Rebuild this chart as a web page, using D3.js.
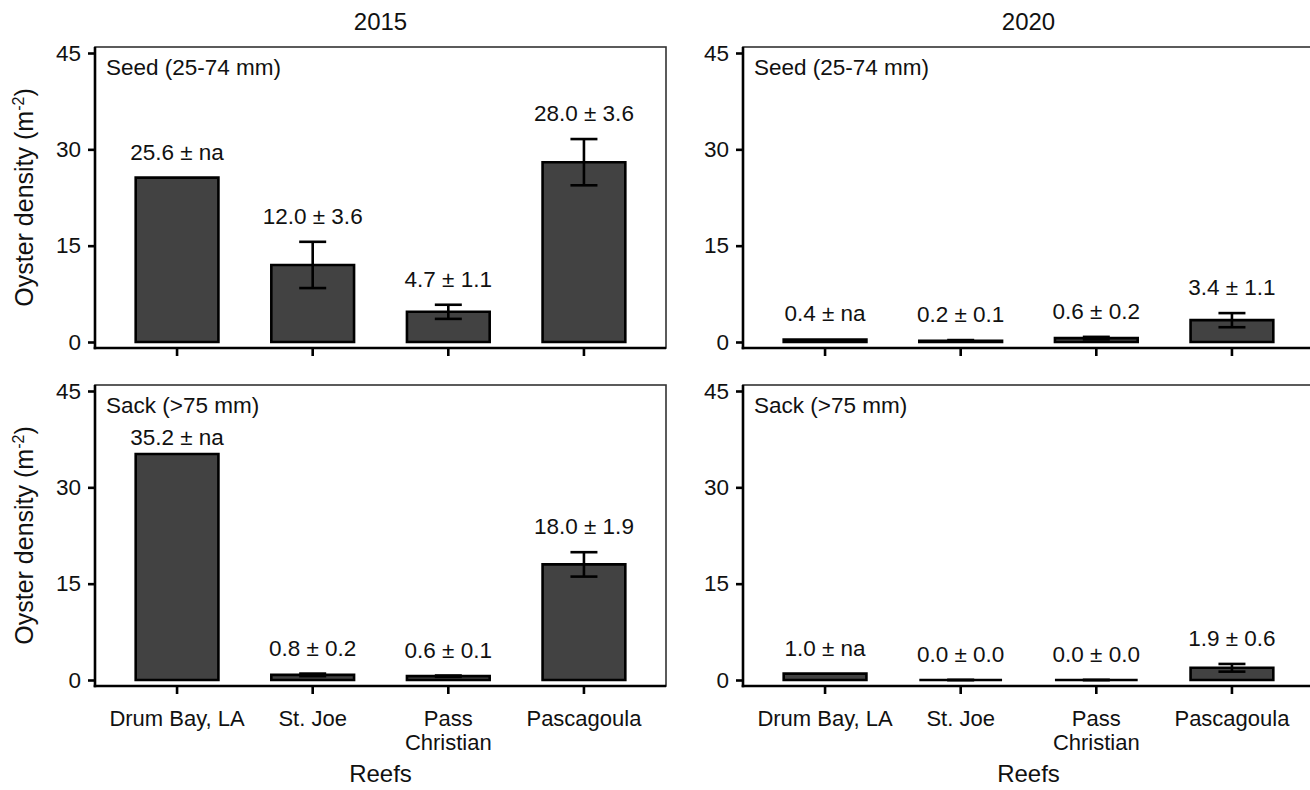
<!DOCTYPE html>
<html lang="en">
<head>
<meta charset="UTF-8">
<title>Oyster density</title>
<script src="https://d3js.org/d3.v7.min.js"></script>
<style>
  body { margin: 0; background: #fff; }
  text { font-family: "Liberation Sans", Arial, sans-serif; fill: #111; }
</style>
</head>
<body>
<script>
  // data
  let reefs = ["Drum Bay, LA", "St. Joe", "Pass Christian", "Pascagoula"];
  let reefLines = [["Drum Bay, LA"], ["St. Joe"], ["Pass", "Christian"], ["Pascagoula"]];
  let years = ["2015", "2020"];
  let sizeClasses = ["Seed (25-74 mm)", "Sack (>75 mm)"];
  let yTicks = [0, 15, 30, 45];

  let seed2015 = [25.6, 12.0, 4.7, 28.0];
  let seed2015Se = [null, 3.6, 1.1, 3.6];
  let seed2020 = [0.4, 0.2, 0.6, 3.4];
  let seed2020Se = [null, 0.1, 0.2, 1.1];
  let sack2015 = [35.2, 0.8, 0.6, 18.0];
  let sack2015Se = [null, 0.2, 0.1, 1.9];
  let sack2020 = [1.0, 0.0, 0.0, 1.9];
  let sack2020Se = [null, 0.0, 0.0, 0.6];

  let panels = [
    { row: 0, col: 0, mean: seed2015, se: seed2015Se },
    { row: 0, col: 1, mean: seed2020, se: seed2020Se },
    { row: 1, col: 0, mean: sack2015, se: sack2015Se },
    { row: 1, col: 1, mean: sack2020, se: sack2020Se }
  ];

  let W = 1310, H = 790;
  let colX = [95, 743], rowY = [47, 385];
  let pw = 571, ph = 301;

  let svg = d3.select("body").append("svg").attr("width", W).attr("height", H);

  let x = d3.scaleBand().domain(reefs).range([0, pw]).paddingInner(0.39).paddingOuter(0.30);
  let y = d3.scaleLinear().domain([0, 45]).range([ph - 6, 6]);

  // column titles
  svg.selectAll(".year").data(years).join("text")
    .attr("x", (d, i) => colX[i] + pw / 2).attr("y", 30)
    .attr("text-anchor", "middle").style("font-size", "24px").text(d => d);

  // y axis titles
  rowY.forEach(ry => {
    let t = svg.append("text")
      .attr("transform", `translate(33,${ry + ph / 2}) rotate(-90)`)
      .attr("text-anchor", "middle").style("font-size", "25px");
    t.append("tspan").text("Oyster density (m");
    t.append("tspan").attr("dy", -9).style("font-size", "16px").text("-2");
    t.append("tspan").attr("dy", 9).text(")");
  });

  // x axis titles
  colX.forEach(cx => {
    svg.append("text").attr("x", cx + pw / 2).attr("y", 782)
      .attr("text-anchor", "middle").style("font-size", "24px").text("Reefs");
  });

  panels.forEach(p => {
    let g = svg.append("g").attr("transform", `translate(${colX[p.col]},${rowY[p.row]})`);
    let rows = reefs.map((r, i) => ({ reef: r, mean: p.mean[i], se: p.se[i] }));

    // frame: thin top/right, heavy left/bottom
    g.append("rect").attr("width", pw).attr("height", ph)
      .attr("fill", "none").attr("stroke", "#333").attr("stroke-width", 1.6);

    // bars (paths so zero-height bars still show as a line)
    g.selectAll(".bar").data(rows).join("path")
      .attr("d", d => {
        let x0 = x(d.reef), x1 = x0 + x.bandwidth();
        return `M${x0},${y(0)}H${x1}V${y(d.mean)}H${x0}Z`;
      })
      .attr("fill", "#424242").attr("stroke", "#000").attr("stroke-width", 2.6);

    // error bars
    let eb = rows.filter(d => d.se !== null);
    let cap = 13.5;
    let eg = g.selectAll(".err").data(eb).join("g")
      .attr("transform", d => `translate(${x(d.reef) + x.bandwidth() / 2},0)`)
      .attr("stroke", "#000").attr("stroke-width", 2.6);
    eg.append("line").attr("y1", d => y(d.mean - d.se)).attr("y2", d => y(d.mean + d.se));
    eg.append("line").attr("x1", -cap).attr("x2", cap)
      .attr("y1", d => y(d.mean + d.se)).attr("y2", d => y(d.mean + d.se));
    eg.append("line").attr("x1", -cap).attr("x2", cap)
      .attr("y1", d => y(d.mean - d.se)).attr("y2", d => y(d.mean - d.se));

    // value labels
    g.selectAll(".val").data(rows).join("text")
      .attr("x", d => x(d.reef) + x.bandwidth() / 2)
      .attr("y", d => Math.max(y(d.mean + (d.se || 0)) - 18, 60))
      .attr("text-anchor", "middle").style("font-size", "22.5px")
      .text(d => `${d.mean.toFixed(1)} ± ${d.se === null ? "na" : d.se.toFixed(1)}`);

    // panel label
    g.append("text").attr("x", 11).attr("y", 28).style("font-size", "22.5px")
      .text(sizeClasses[p.row]);

    // y axis
    let ya = g.append("g").call(d3.axisLeft(y).tickValues(yTicks).tickSize(7).tickPadding(7).tickSizeOuter(0));
    ya.select(".domain").remove();
    ya.selectAll("line").attr("stroke", "#000").attr("stroke-width", 2.6);
    ya.selectAll("text").style("font-size", "22.5px").attr("fill", "#111");

    // x axis
    let xa = g.append("g").attr("transform", `translate(0,${ph})`)
      .call(d3.axisBottom(x).tickSize(8).tickSizeOuter(0).tickFormat(""));
    xa.select(".domain").remove();
    xa.selectAll("line").attr("stroke", "#000").attr("stroke-width", 2.6);

    if (p.row === 1) {
      xa.selectAll(".tick text").each(function (d, i) {
        let t = d3.select(this).text(null).attr("y", 0).attr("dy", null)
          .style("font-size", "22px").attr("fill", "#111");
        reefLines[i].forEach((ln, k) => {
          t.append("tspan").attr("x", 0).attr("y", 40 + k * 24).text(ln);
        });
      });
    }

    // heavy left and bottom axis lines
    g.append("line").attr("x1", 0).attr("x2", 0).attr("y1", 0).attr("y2", ph + 1.3)
      .attr("stroke", "#000").attr("stroke-width", 2.6);
    g.append("line").attr("x1", -1.3).attr("x2", pw).attr("y1", ph).attr("y2", ph)
      .attr("stroke", "#000").attr("stroke-width", 2.6);
  });
</script>
</body>
</html>
